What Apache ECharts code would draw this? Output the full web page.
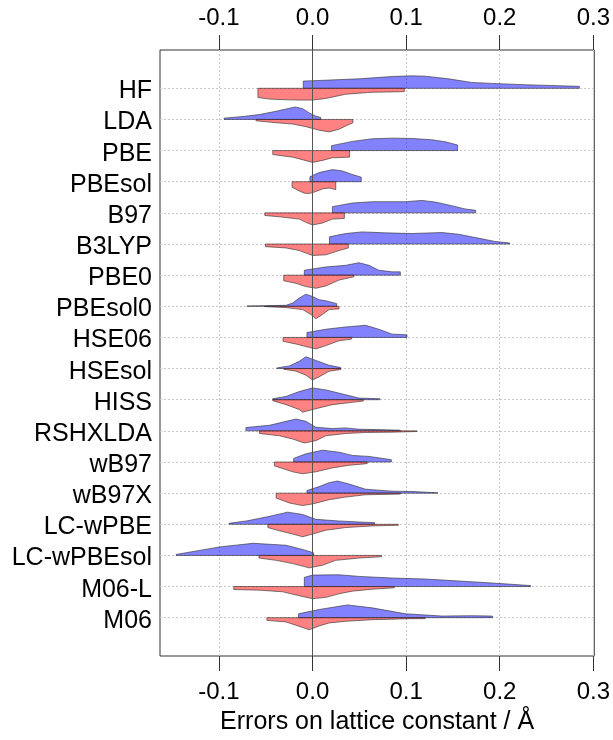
<!DOCTYPE html>
<html><head><meta charset="utf-8">
<script src="https://cdn.jsdelivr.net/npm/echarts@6/dist/echarts.min.js"></script>
<style>html,body{margin:0;padding:0;background:#fff}#c{width:613px;height:740px}</style>
</head><body><div id="c"></div>
<script>
const methods = ['HF','LDA','PBE','PBEsol','B97','B3LYP','PBE0','PBEsol0','HSE06','HSEsol','HISS','RSHXLDA','wB97','wB97X','LC-wPBE','LC-wPBEsol','M06-L','M06'];
const xTicks = [-0.1, 0.0, 0.1, 0.2, 0.3];
const xTitle = 'Errors on lattice constant / Å';

// density outlines [error, density] for the upper (blue) half of each bean
const blueDensity = [
  [[-0.0099,22],[0,23],[0.0496,29],[0.085,36],[0.1062,38],[0.1204,37],[0.1451,29],[0.1699,18],[0.1912,15],[0.2265,11],[0.2619,8],[0.285,6]],
  [[-0.0945,4],[-0.0743,9],[-0.0566,15],[-0.0389,25],[-0.0283,32],[-0.0184,38],[-0.0106,33],[-0.0035,20],[0.0035,10],[0.0088,6]],
  [[0.0202,15],[0.0425,28],[0.0637,36],[0.085,38],[0.1062,37],[0.1274,33],[0.1416,27],[0.155,17]],
  [[-0.0028,15],[0.0071,28],[0.0212,37],[0.0319,33],[0.0425,22],[0.052,14]],
  [[0.0212,19],[0.0425,30],[0.0637,34],[0.0991,34],[0.1168,38],[0.131,33],[0.1487,22],[0.1628,12],[0.1742,8]],
  [[0.0181,22],[0.0354,32],[0.0531,37],[0.0779,34],[0.1062,32],[0.1381,35],[0.1558,30],[0.177,18],[0.1947,8],[0.2106,3]],
  [[-0.0088,15],[0.0142,25],[0.0354,30],[0.0496,38],[0.0602,30],[0.0708,15],[0.085,10],[0.0938,10]],
  [[-0.0701,1],[-0.0496,2],[-0.0283,3],[-0.0212,10],[-0.0142,25],[-0.0071,37],[0,30],[0.0071,20],[0.0142,17],[0.0258,8]],
  [[-0.006,15],[0.0142,25],[0.0354,32],[0.0566,37],[0.0708,25],[0.085,10],[0.1009,8]],
  [[-0.0382,2],[-0.0248,8],[-0.0142,22],[-0.0071,36],[0.0035,25],[0.0177,10],[0.0301,3]],
  [[-0.0425,3],[-0.0283,10],[-0.0142,25],[0,36],[0.0142,30],[0.0354,15],[0.0496,5],[0.0719,3]],
  [[-0.0712,10],[-0.046,17],[-0.0283,29],[-0.0177,36],[-0.0071,29],[0.0035,11],[0.0212,7],[0.0354,9],[0.0496,5],[0.0672,4],[0.0938,2]],
  [[-0.0202,11],[-0.0071,25],[0.0106,36],[0.0283,30],[0.0425,20],[0.0602,17],[0.0842,7]],
  [[-0.006,8],[0.0071,20],[0.0177,32],[0.0265,37],[0.0389,28],[0.0566,12],[0.085,6],[0.1062,5],[0.1338,1]],
  [[-0.0892,3],[-0.0708,10],[-0.0496,22],[-0.0265,37],[-0.0106,30],[0.0035,15],[0.0283,10],[0.0496,7],[0.0662,5]],
  [[-0.1458,3],[-0.0991,26],[-0.0637,37],[-0.0283,31],[-0.0106,18],[0.0011,8]],
  [[-0.0088,28],[0,35],[0.0283,36],[0.0496,31],[0.085,26],[0.1204,23],[0.1558,17],[0.1912,11],[0.2329,3]],
  [[-0.0149,12],[0.0071,25],[0.0372,39],[0.0637,30],[0.0991,12],[0.1381,5],[0.1699,6],[0.1922,5]]
];
// density outlines [error, density] for the lower (red) half of each bean
const redDensity = [
  [[-0.0584,28],[-0.046,33],[-0.0283,35],[-0.0142,36],[0,36],[0.0142,31],[0.0354,18],[0.0637,12],[0.085,11],[0.0981,10]],
  [[-0.0605,4],[-0.0389,10],[-0.0212,14],[-0.0071,22],[0.0071,33],[0.0177,38],[0.0283,30],[0.0354,20],[0.0432,10]],
  [[-0.0425,12],[-0.0212,20],[-0.0106,28],[0,36],[0.0106,30],[0.0212,22],[0.0396,20]],
  [[-0.0219,17],[-0.0142,28],[-0.0088,35],[-0.0035,36],[0.0035,30],[0.0106,22],[0.0177,19],[0.0248,24]],
  [[-0.051,8],[-0.0354,12],[-0.0142,19],[-0.0071,29],[0,37],[0.0106,31],[0.0212,19],[0.034,17]],
  [[-0.0503,8],[-0.0283,12],[-0.0142,20],[0,35],[0.0142,33],[0.0283,20],[0.0382,12]],
  [[-0.0308,17],[-0.0177,25],[-0.0071,35],[0.0035,40],[0.0142,33],[0.0283,15],[0.0442,5]],
  [[-0.0513,1],[-0.0283,4],[-0.0106,10],[-0.0018,25],[0.0035,38],[0.0106,25],[0.0177,10],[0.0283,8]],
  [[-0.0315,12],[-0.0177,20],[-0.0071,28],[0.0035,35],[0.0142,25],[0.0283,10],[0.0418,5]],
  [[-0.0308,2],[-0.0177,8],[-0.0071,20],[0,35],[0.0071,25],[0.0177,8],[0.0301,3]],
  [[-0.0425,3],[-0.0283,15],[-0.0142,30],[-0.0106,38],[0,30],[0.0212,15],[0.0425,8],[0.0542,4]],
  [[-0.0566,8],[-0.0354,15],[-0.0212,25],[-0.0088,37],[0.0035,30],[0.0142,15],[0.0354,8],[0.0566,5],[0.085,4],[0.1115,2]],
  [[-0.0407,12],[-0.0318,20],[-0.0212,30],[-0.0106,36],[0.0035,30],[0.0212,18],[0.0389,10],[0.0584,5]],
  [[-0.0389,15],[-0.0248,30],[-0.0106,38],[0,33],[0.0177,20],[0.0354,12],[0.0566,5],[0.0938,3]],
  [[-0.0478,10],[-0.0354,20],[-0.0212,30],[-0.0106,38],[0,30],[0.0142,18],[0.0354,10],[0.0637,5],[0.0917,3]],
  [[-0.0573,8],[-0.0389,15],[-0.0212,25],[-0.0035,38],[0.0106,30],[0.0248,15],[0.0496,8],[0.0736,4]],
  [[-0.0842,9],[-0.0566,11],[-0.0318,16],[-0.0142,28],[0,37],[0.0142,33],[0.0283,22],[0.0425,14],[0.0637,8],[0.0874,4]],
  [[-0.0488,8],[-0.0283,13],[-0.0177,23],[-0.0035,37],[0.0071,25],[0.0177,16],[0.0354,11],[0.0637,6],[0.1062,3],[0.1204,3]]
];

const DENS_TO_ROW = 1 / 95;
const LABEL_SHIFT = 0.1;
const FONT = 'Liberation Sans, Arial, Helvetica, sans-serif';
const rowIdx = methods.map((m, i) => i);
const labelPos = rowIdx.map(i => i + LABEL_SHIFT);

const beanData = [];
methods.forEach((m, i) => { beanData.push([0, i, 0]); beanData.push([0, i, 1]); });

function renderBean(params, api) {
  const i = api.value(1), side = api.value(2);
  const pts = side === 0 ? blueDensity[i] : redDensity[i];
  const sign = side === 0 ? -1 : 1;
  const poly = [api.coord([pts[0][0], i])];
  pts.forEach(p => poly.push(api.coord([p[0], i + sign * p[1] * DENS_TO_ROW])));
  poly.push(api.coord([pts[pts.length - 1][0], i]));
  return {
    type: 'polygon',
    shape: { points: poly },
    style: {
      fill: side === 0 ? 'rgba(0,0,255,0.49)' : 'rgba(255,0,0,0.49)',
      stroke: 'rgba(40,40,40,0.75)',
      lineWidth: 0.8
    }
  };
}

const xAxisBase = {
  type: 'value', min: -0.163, max: 0.301,
  axisLine: { show: false, onZero: false },
  axisTick: { show: true, length: 15, customValues: xTicks, lineStyle: { color: '#333', width: 1 } },
  axisLabel: { customValues: xTicks, fontSize: 24, color: '#000', fontFamily: FONT, margin: 20,
    formatter: v => v.toFixed(1) },
  splitLine: { show: false }
};

const chart = echarts.init(document.getElementById('c'), null, { renderer: 'canvas' });
chart.setOption({
  animation: false,
  backgroundColor: '#fff',
  grid: { left: 160, right: 16, top: 50, bottom: 75, show: true, borderColor: '#333', borderWidth: 1, backgroundColor: 'transparent' },
  xAxis: [
    Object.assign({}, xAxisBase, {
      position: 'bottom',
      axisLabel: Object.assign({}, xAxisBase.axisLabel, { margin: 24 }),
      name: xTitle, nameLocation: 'middle', nameGap: 54,
      nameTextStyle: { fontSize: 25, color: '#000', fontFamily: FONT },
      splitLine: { show: true, lineStyle: { color: '#c8c8c8', type: [2, 2], width: 1 } }
    }),
    Object.assign({}, xAxisBase, { position: 'top' })
  ],
  yAxis: {
    type: 'value', inverse: true, min: -1.23, max: 18.23,
    axisLine: { show: false, onZero: false },
    axisTick: { show: false, customValues: rowIdx },
    axisLabel: { customValues: labelPos, fontSize: 25, color: '#000', fontFamily: FONT, margin: 8,
      formatter: v => methods[Math.round(v)] },
    splitLine: { show: true, lineStyle: { color: '#c8c8c8', type: [2, 2], width: 1 } }
  },
  series: [
    {
      type: 'custom', xAxisIndex: 0, yAxisIndex: 0,
      data: beanData, encode: { x: 0, y: 1 },
      renderItem: renderBean, z: 2,
      markLine: {
        silent: true, symbol: ['none', 'none'], label: { show: false },
        lineStyle: { color: '#555', width: 1, type: 'solid' },
        data: [{ xAxis: 0 }], z: 5
      }
    }
  ]
});
</script></body></html>
